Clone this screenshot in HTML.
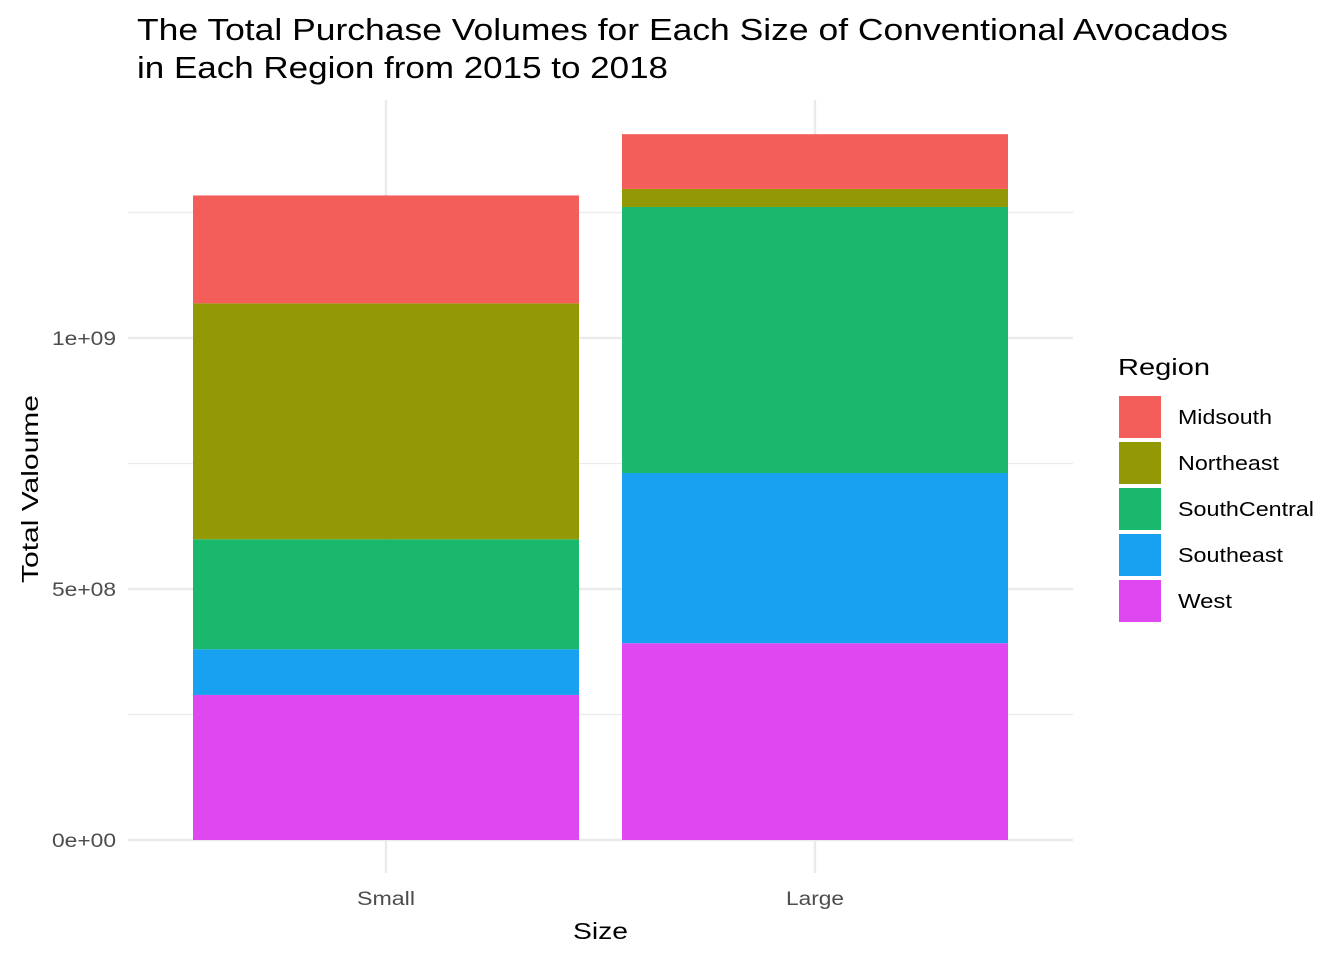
<!DOCTYPE html>
<html><head><meta charset="utf-8"><style>
body{margin:0;background:#fff;font-family:"Liberation Sans",Arial,sans-serif}
</style></head><body>
<svg width="1344" height="960" xmlns="http://www.w3.org/2000/svg" id="c">
<text x="137" y="40" font-size="31" textLength="1091" lengthAdjust="spacingAndGlyphs" fill="#000">The Total Purchase Volumes for Each Size of Conventional Avocados</text>
<text x="137" y="78" font-size="31" textLength="531" lengthAdjust="spacingAndGlyphs" fill="#000">in Each Region from 2015 to 2018</text>
<g id="grid"></g><g id="bars"></g><g id="axes"></g>
<text x="573" y="939" font-size="23" textLength="55" lengthAdjust="spacingAndGlyphs">Size</text>
<text transform="translate(38,583) rotate(-90)" font-size="23" textLength="188" lengthAdjust="spacingAndGlyphs">Total Valoume</text>
<g id="legend"><text x="1118" y="375" font-size="23" textLength="92" lengthAdjust="spacingAndGlyphs">Region</text></g>
</svg>
<script>
const categories=["Small","Large"];
const regions=["West","Southeast","SouthCentral","Northeast","Midsouth"];
const realColors={Midsouth:"#F35E5A",Northeast:"#929905",SouthCentral:"#1AB86C",Southeast:"#17A1F0",West:"#DF48F0"};
const westVals=[2.89e8,3.92e8];
const southeastVals=[0.91e8,3.39e8];
const southCentralVals=[2.19e8,5.30e8];
const northeastVals=[4.70e8,0.36e8];
const midsouthVals=[2.15e8,1.09e8];
const yTicks=[0,5e8,1e9];
const yTickLabels=["0e+00","5e+08","1e+09"];
const yMinor=[2.5e8,7.5e8,1.25e9];
const series=[westVals,southeastVals,southCentralVals,northeastVals,midsouthVals];
const legendOrder=["Midsouth","Northeast","SouthCentral","Southeast","West"];
const legendWidths={Midsouth:94,Northeast:101,SouthCentral:136,Southeast:105,West:54};
const ns="http://www.w3.org/2000/svg";
const y=v=>840-v*502/1e9;
const xc=i=>386+i*429;
const bw=386;
function mk(t,a,p){const e=document.createElementNS(ns,t);for(const k in a)e.setAttribute(k,a[k]);document.getElementById(p).appendChild(e);return e;}
yMinor.forEach(v=>{const l=mk("line",{x1:128,x2:1073,y1:y(v),y2:y(v),stroke:"#ebebeb","stroke-width":1.2},"grid");

});
yTicks.forEach((v,i)=>{const l=mk("line",{x1:128,x2:1073,y1:y(v),y2:y(v),stroke:"#ebebeb","stroke-width":2.4},"grid");


const t=mk("text",{x:52,y:y(v)+7,"font-size":19,fill:"#4d4d4d",textLength:64,lengthAdjust:"spacingAndGlyphs"},"axes");t.textContent=yTickLabels[i];

});
categories.forEach((c,i)=>{const l=mk("line",{x1:xc(i),x2:xc(i),y1:100,y2:873,stroke:"#ebebeb","stroke-width":2.4},"grid");


const t=mk("text",{x:xc(i)-29,y:905,"font-size":19,fill:"#4d4d4d",textLength:58,lengthAdjust:"spacingAndGlyphs"},"axes");t.textContent=c;


let base=0;series.forEach((s,j)=>{const r=mk("rect",{x:xc(i)-bw/2,y:y(base+s[i]),width:bw,height:y(base)-y(base+s[i]),fill:realColors[regions[j]]},"bars");

base+=s[i];});});
legendOrder.forEach((r,k)=>{const yy=396+k*46;
const s=mk("rect",{x:1119,y:yy,width:42,height:42,fill:realColors[r]},"legend");


const t=mk("text",{x:1178,y:yy+28,"font-size":20,fill:"#000",textLength:legendWidths[r],lengthAdjust:"spacingAndGlyphs"},"legend");t.textContent=r;

});
</script>
</body></html>
